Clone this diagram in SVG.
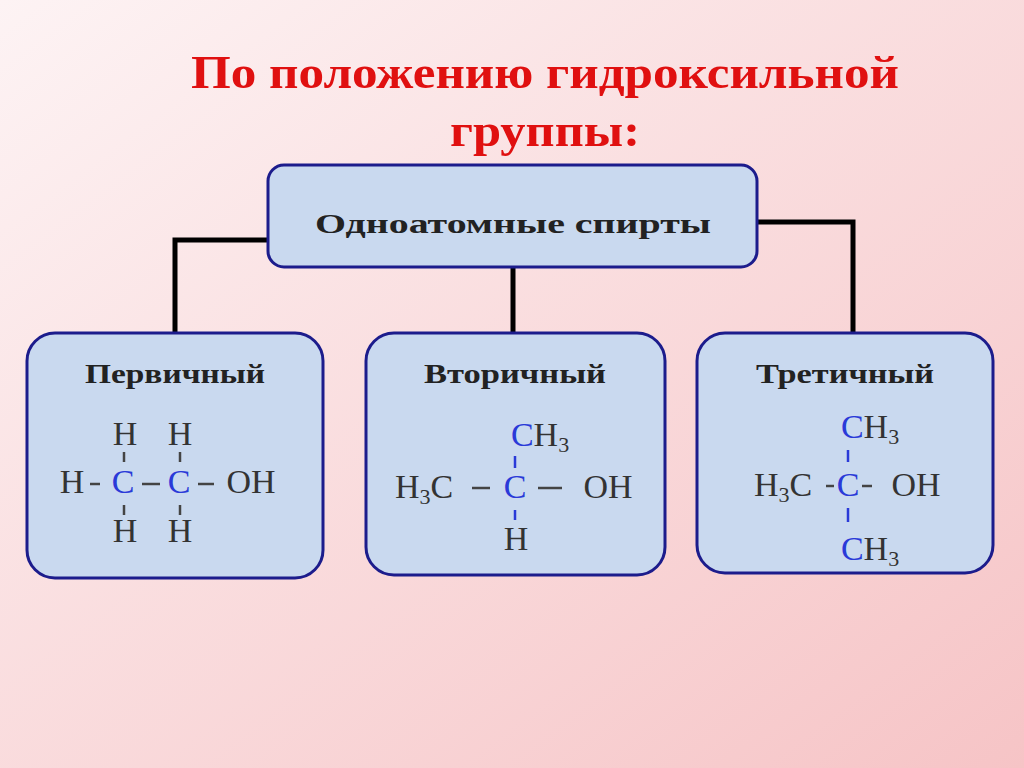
<svg xmlns="http://www.w3.org/2000/svg" width="1024" height="768" viewBox="0 0 1024 768">
<style>
.box{fill:#c9d9ef;stroke:#1c1c8c;stroke-width:3}
.lbl{font-family:"Liberation Serif",serif;font-weight:bold;font-size:28px;fill:#222;text-anchor:middle}
.f{font-family:"Liberation Serif",serif;font-size:34px;fill:#333;text-anchor:middle}
.c{fill:#2a3ad8}
.b{stroke:#444;stroke-width:2.5}
.bb{stroke:#2a3ad8;stroke-width:2.5}
</style>
<defs>
<linearGradient id="bg" x1="0" y1="0" x2="1" y2="1">
<stop offset="0" stop-color="#fdf3f4"/><stop offset="1" stop-color="#f6c4c6"/>
</linearGradient>
</defs>
<rect width="1024" height="768" fill="url(#bg)"/>
<text x="545" y="88" font-family="Liberation Serif,serif" font-weight="bold" font-size="46" fill="#e01010" text-anchor="middle" textLength="708" lengthAdjust="spacingAndGlyphs">По положению гидроксильной</text>
<text x="545" y="146" font-family="Liberation Serif,serif" font-weight="bold" font-size="46" fill="#e01010" text-anchor="middle" textLength="190" lengthAdjust="spacingAndGlyphs">группы:</text>
<g id="connectors" fill="none" stroke="#000" stroke-width="5">
<polyline points="268,240 175,240 175,333"/>
<polyline points="513,267 513,333"/>
<polyline points="757,222 853,222 853,333"/>
</g>
<g id="top"><rect class="box" x="268" y="165" width="489" height="102" rx="16"/>
<text class="lbl" x="513" y="233" font-size="31" textLength="396" lengthAdjust="spacingAndGlyphs">Одноатомные спирты</text></g>
<g id="primary"><rect class="box" x="27" y="333" width="296" height="245" rx="28"/>
<text class="lbl" x="175" y="383" textLength="180" lengthAdjust="spacingAndGlyphs">Первичный</text>
<text class="f" x="125" y="445">H</text><text class="f" x="180" y="445">H</text>
<line class="b" x1="124" y1="452" x2="124" y2="462"/><line class="b" x1="180" y1="452" x2="180" y2="462"/>
<text class="f" x="72" y="493">H</text><line class="b" x1="90" y1="484" x2="100" y2="484"/>
<text class="f c" x="123" y="493">C</text><line class="b" x1="142" y1="484" x2="160" y2="484"/>
<text class="f c" x="179" y="493">C</text><line class="b" x1="198" y1="484" x2="214" y2="484"/>
<text class="f" x="251" y="493">OH</text>
<line class="b" x1="124" y1="505" x2="124" y2="515"/><line class="b" x1="180" y1="505" x2="180" y2="515"/>
<text class="f" x="125" y="542">H</text><text class="f" x="180" y="542">H</text></g>
<g id="secondary"><rect class="box" x="366" y="333" width="299" height="242" rx="28"/>
<text class="lbl" x="515" y="383" textLength="182" lengthAdjust="spacingAndGlyphs">Вторичный</text>
<text class="f" x="540" y="446"><tspan class="c">C</tspan>H<tspan font-size="22" dy="6">3</tspan></text>
<line class="bb" x1="515" y1="456" x2="515" y2="468"/>
<text class="f" x="424" y="498">H<tspan font-size="22" dy="6">3</tspan><tspan dy="-6">C</tspan></text>
<line class="b" x1="472" y1="488" x2="490" y2="488"/>
<text class="f c" x="515" y="498">C</text>
<line class="b" x1="538" y1="488" x2="562" y2="488"/>
<text class="f" x="608" y="498">OH</text>
<line class="bb" x1="515" y1="510" x2="515" y2="520"/>
<text class="f" x="516" y="550">H</text></g>
<g id="tertiary"><rect class="box" x="697" y="333" width="296" height="240" rx="28"/>
<text class="lbl" x="845" y="383" textLength="178" lengthAdjust="spacingAndGlyphs">Третичный</text>
<text class="f" x="870" y="438"><tspan class="c">C</tspan>H<tspan font-size="22" dy="6">3</tspan></text>
<line class="bb" x1="848" y1="450" x2="848" y2="462"/>
<text class="f" x="783" y="496">H<tspan font-size="22" dy="6">3</tspan><tspan dy="-6">C</tspan></text>
<line class="b" x1="826" y1="486" x2="834" y2="486"/>
<text class="f c" x="848" y="496">C</text>
<line class="b" x1="862" y1="486" x2="872" y2="486"/>
<text class="f" x="916" y="496">OH</text>
<line class="bb" x1="848" y1="508" x2="848" y2="522"/>
<text class="f" x="870" y="560"><tspan class="c">C</tspan>H<tspan font-size="22" dy="6">3</tspan></text></g>
</svg>
